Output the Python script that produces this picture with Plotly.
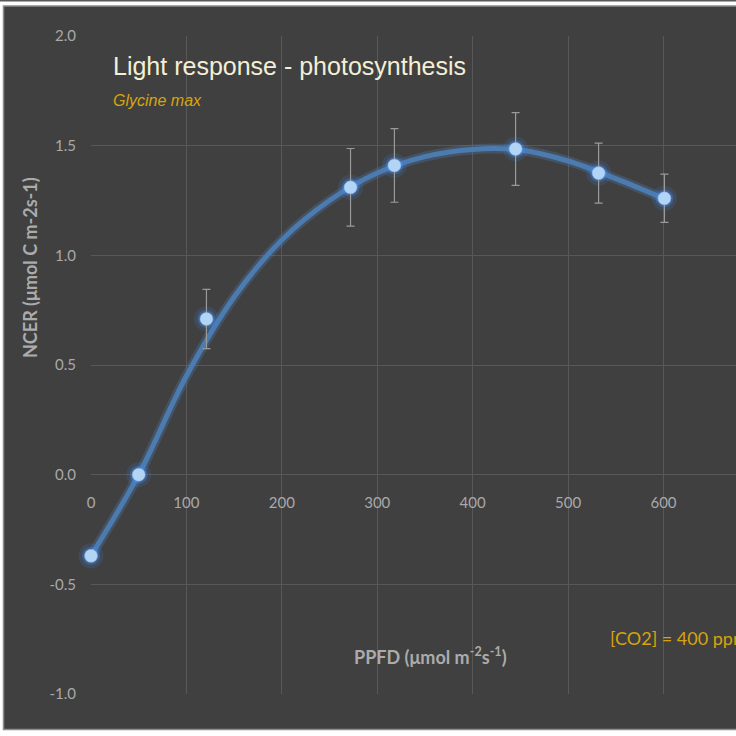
import plotly.graph_objects as go

# ---- data ----
ppfd = [0, 50, 121, 272, 318, 445, 532, 601]
ncer = [-0.37, 0.0, 0.71, 1.31, 1.41, 1.485, 1.375, 1.26]
ncer_err = [0.0, 0.0, 0.135, 0.177, 0.168, 0.166, 0.137, 0.11]

# fitted response curve
curve_x = [0, 50, 100, 150, 200, 250, 300, 350, 400, 450, 500, 550, 600]
curve_y = [-0.37, 0.0, 0.45, 0.81, 1.07, 1.25, 1.375, 1.45, 1.483, 1.48, 1.43, 1.35, 1.26]

x_ticks = [0, 100, 200, 300, 400, 500, 600]
x_ticktext = ["0", "100", "200", "300", "400", "500", "600"]
y_ticks = [-1.0, -0.5, 0.0, 0.5, 1.0, 1.5, 2.0]
y_ticktext = ["-1.0", "-0.5", "0.0", "0.5", "1.0", "1.5", "2.0"]

BG = "#404040"
GRID = "#585858"
TICK = "#a9a9a9"
GOLD = "#d8a40c"

L, R, T, B = 91, 0, 36, 42
W, H = 736, 736
PW, PH = W - L - R, H - T - B


def xf(px):
    return (px - L) / PW


def yf(py):
    return (H - B - py) / PH


fig = go.Figure()

# curve glow + curve
fig.add_trace(go.Scatter(x=curve_x, y=curve_y, mode="lines",
                         line=dict(color="rgba(80,130,190,0.28)", width=10, shape="spline", smoothing=1.0),
                         hoverinfo="skip", showlegend=False, cliponaxis=False))
fig.add_trace(go.Scatter(x=curve_x, y=curve_y, mode="lines",
                         line=dict(color="#4c7bb0", width=5, shape="spline", smoothing=1.0),
                         showlegend=False, cliponaxis=False))
# marker halos
fig.add_trace(go.Scatter(x=ppfd, y=ncer, mode="markers",
                         marker=dict(size=25, color="rgba(60,130,235,0.16)", line=dict(width=0)),
                         hoverinfo="skip", showlegend=False, cliponaxis=False))
fig.add_trace(go.Scatter(x=ppfd, y=ncer, mode="markers",
                         marker=dict(size=18, color="rgba(75,145,240,0.30)", line=dict(width=0)),
                         hoverinfo="skip", showlegend=False, cliponaxis=False))
# markers with error bars
fig.add_trace(go.Scatter(x=ppfd, y=ncer, mode="markers",
                         marker=dict(size=13, color="#b2d5f5", line=dict(width=1, color="rgba(130,180,245,0.6)")),
                         error_y=dict(type="data", array=ncer_err, visible=True,
                                      color="#9a9a9a", thickness=1.2, width=4),
                         showlegend=False, cliponaxis=False))

fig.update_layout(
    width=W, height=H,
    margin=dict(l=L, r=R, t=T, b=B, pad=0),
    paper_bgcolor="white",
    plot_bgcolor=BG,
    font=dict(family="Lato, Roboto, sans-serif", color=TICK),
    xaxis=dict(range=[0, 676], tickvals=x_ticks, ticktext=x_ticktext,
               showgrid=True, gridcolor=GRID, gridwidth=1, zeroline=False, showline=False,
               anchor="free", position=1 / 3, ticks="", ticklabelstandoff=17,
               tickfont=dict(family="Lato, sans-serif", size=15, color=TICK)),
    yaxis=dict(range=[-1, 2], tickvals=y_ticks, ticktext=y_ticktext,
               showgrid=True, gridcolor=GRID, gridwidth=1, zeroline=False, showline=False,
               ticks="", ticklabelstandoff=14,
               tickfont=dict(family="Lato, sans-serif", size=15, color=TICK)),
    shapes=[
        dict(type="rect", xref="paper", yref="paper", layer="below",
             x0=xf(3.5), x1=1.2, y0=yf(729.5), y1=yf(6),
             fillcolor=BG, line=dict(color="#8c8c8c", width=1.5)),
        dict(type="rect", xref="paper", yref="paper", layer="below",
             x0=xf(0), x1=1.2, y0=yf(1.5), y1=yf(0),
             fillcolor="#5a5a5a", line=dict(width=0)),
    ],
    annotations=[
        dict(text="Light response - photosynthesis", xref="paper", yref="paper",
             x=xf(111), y=yf(66), xanchor="left", yanchor="middle", showarrow=False,
             font=dict(family="Liberation Sans, Arial, sans-serif", size=25, color="#f3efd6")),
        dict(text="<i>Glycine max</i>", xref="paper", yref="paper",
             x=xf(111), y=yf(100), xanchor="left", yanchor="middle", showarrow=False,
             font=dict(family="Liberation Sans, Arial, sans-serif", size=16, color=GOLD)),
        dict(text="<b>NCER (μmol C m-2s-1)</b>", xref="paper", yref="paper",
             x=xf(30), y=yf(268), xanchor="center", yanchor="middle", textangle=-90,
             showarrow=False, font=dict(family="Lato, sans-serif", size=18, color="#ababab")),
        dict(text="<b>PPFD (μmol m<sup>-2</sup>s<sup>-1</sup>)</b>", xref="paper", yref="paper",
             x=xf(430), y=yf(656), xanchor="center", yanchor="middle",
             showarrow=False, font=dict(family="Lato, sans-serif", size=18, color="#ababab")),
        dict(text="[CO2] = 400 ppm", xref="paper", yref="paper",
             x=xf(608), y=yf(638), xanchor="left", yanchor="middle",
             showarrow=False, font=dict(family="Lato, sans-serif", size=18, color=GOLD)),
    ],
)

fig.write_html("out.html", config={"displayModeBar": False},
               post_script="document.body.style.margin='0';document.body.style.overflow='hidden';")
